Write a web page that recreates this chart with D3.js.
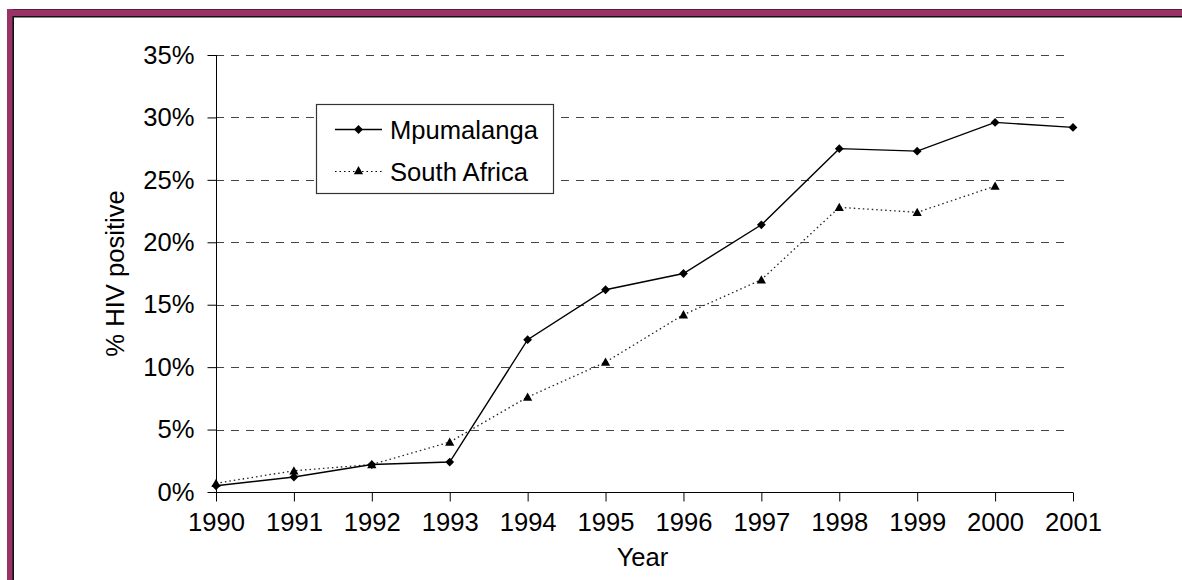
<!DOCTYPE html>
<html>
<head>
<meta charset="utf-8">
<script src="https://cdn.jsdelivr.net/npm/d3@7"></script>
<style>
  html, body { margin: 0; padding: 0; background: #fff; }
  svg { display: block; }
  text { font-family: "Liberation Sans", Arial, sans-serif; fill: #000; }
</style>
</head>
<body>
<svg id="chart" width="1182" height="580"></svg>
<script>
const years = [1990, 1991, 1992, 1993, 1994, 1995, 1996, 1997, 1998, 1999, 2000, 2001];
const mpumalanga = [0.5, 1.2, 2.2, 2.4, 12.2, 16.2, 17.5, 21.4, 27.5, 27.3, 29.6, 29.2];
const southAfrica = [0.7, 1.7, 2.2, 4.0, 7.6, 10.4, 14.2, 17.0, 22.8, 22.4, 24.5, null];
const yTicks = [0, 5, 10, 15, 20, 25, 30, 35];
const seriesNames = ["Mpumalanga", "South Africa"];

const svg = d3.select("#chart");
const W = 1182, H = 580;
const plot = { left: 216, right: 1073, top: 55, bottom: 492 };
const fontSize = 25.6;

// frame
svg.append("rect").attr("x", 7).attr("y", 9).attr("width", W - 7).attr("height", 8).attr("fill", "#993366");
svg.append("line").attr("x1", 7).attr("x2", W).attr("y1", 9.5).attr("y2", 9.5).attr("stroke", "#5a1f3c").attr("stroke-width", 1);
svg.append("rect").attr("x", 7).attr("y", 9).attr("width", 6).attr("height", H - 9).attr("fill", "#993366");
svg.append("line").attr("x1", 13).attr("x2", W).attr("y1", 16.8).attr("y2", 16.8).attr("stroke", "#111").attr("stroke-width", 1.6);
svg.append("line").attr("x1", 13.2).attr("x2", 13.2).attr("y1", 16).attr("y2", H).attr("stroke", "#111").attr("stroke-width", 1.6);

const x = d3.scaleLinear().domain([1990, 2001]).range([plot.left, plot.right]);
const y = d3.scaleLinear().domain([0, 35]).range([plot.bottom, plot.top]);

// gridlines
svg.append("g").selectAll("line").data(yTicks.filter(d => d > 0)).join("line")
  .attr("x1", plot.left).attr("x2", plot.right - 5)
  .attr("y1", d => Math.round(y(d)) + 0.5).attr("y2", d => Math.round(y(d)) + 0.5)
  .attr("stroke", "#444").attr("stroke-width", 1).attr("stroke-dasharray", "8,7");

// y axis
const yAxis = d3.axisLeft(y).tickValues(yTicks).tickSize(9).tickPadding(13).tickFormat(d => d + "%");
const gy = svg.append("g").attr("transform", `translate(${plot.left + 0.5},0)`).call(yAxis);
gy.select(".domain").attr("stroke", "#000").attr("d", `M0,${plot.top}V${plot.bottom}`);
gy.selectAll(".tick line").attr("stroke", "#000");
gy.selectAll(".tick text").style("font-size", fontSize + "px").attr("font-family", "Liberation Sans, Arial, sans-serif");

// x axis
const xAxis = d3.axisBottom(x).tickValues(years).tickSize(9).tickPadding(11).tickFormat(d3.format("d"));
const gx = svg.append("g").attr("transform", `translate(0,${plot.bottom + 0.5})`).call(xAxis);
gx.select(".domain").attr("stroke", "#000").attr("d", `M${plot.left},0H${plot.right}`);
gx.selectAll(".tick line").attr("stroke", "#000");
gx.selectAll(".tick text").style("font-size", fontSize + "px").attr("font-family", "Liberation Sans, Arial, sans-serif");

// axis titles
svg.append("text").attr("x", (plot.left + plot.right) / 2 - 2).attr("y", 566)
  .attr("text-anchor", "middle").style("font-size", fontSize + "px").text("Year");
svg.append("text").attr("transform", `translate(124,${(plot.top + plot.bottom) / 2}) rotate(-90)`)
  .attr("text-anchor", "middle").style("font-size", fontSize + "px").text("% HIV positive");

// series
const mData = years.map((yr, i) => ({ yr, v: mpumalanga[i] })).filter(d => d.v != null);
const sData = years.map((yr, i) => ({ yr, v: southAfrica[i] })).filter(d => d.v != null);
const line = d3.line().x(d => x(d.yr)).y(d => y(d.v));

svg.append("path").datum(sData).attr("d", line).attr("fill", "none")
  .attr("stroke", "#222").attr("stroke-width", 1.3).attr("stroke-dasharray", "1.5,3");
svg.append("path").datum(mData).attr("d", line).attr("fill", "none")
  .attr("stroke", "#000").attr("stroke-width", 1.4);

const diamond = (cx, cy, r) => `M${cx},${cy - r}L${cx + r},${cy}L${cx},${cy + r}L${cx - r},${cy}Z`;
const triangle = (cx, cy, r) => `M${cx},${cy - r}L${cx + r},${cy + r * 0.8}L${cx - r},${cy + r * 0.8}Z`;

svg.append("g").selectAll("path").data(sData).join("path")
  .attr("d", d => triangle(x(d.yr), y(d.v), 4.6)).attr("fill", "#000");
svg.append("g").selectAll("path").data(mData).join("path")
  .attr("d", d => diamond(x(d.yr), y(d.v), 4.4)).attr("fill", "#000");

// legend
const lg = svg.append("g");
lg.append("rect").attr("x", 316.5).attr("y", 104.5).attr("width", 237).attr("height", 89)
  .attr("fill", "#fff").attr("stroke", "#333").attr("stroke-width", 1.2);
const rows = [
  { name: seriesNames[0], y: 129.5, dash: null, marker: "d" },
  { name: seriesNames[1], y: 171.5, dash: "1.5,3", marker: "t" }
];
rows.forEach(r => {
  lg.append("line").attr("x1", 335).attr("x2", 382).attr("y1", r.y).attr("y2", r.y)
    .attr("stroke", "#000").attr("stroke-width", r.dash ? 1.2 : 1.4).attr("stroke-dasharray", r.dash);
  lg.append("path").attr("d", r.marker === "d" ? diamond(358.5, r.y, 4.4) : triangle(358.5, r.y - 1, 4.6)).attr("fill", "#000");
  lg.append("text").attr("x", 390).attr("y", r.y + 9).style("font-size", fontSize + "px").text(r.name);
});
</script>
</body>
</html>
